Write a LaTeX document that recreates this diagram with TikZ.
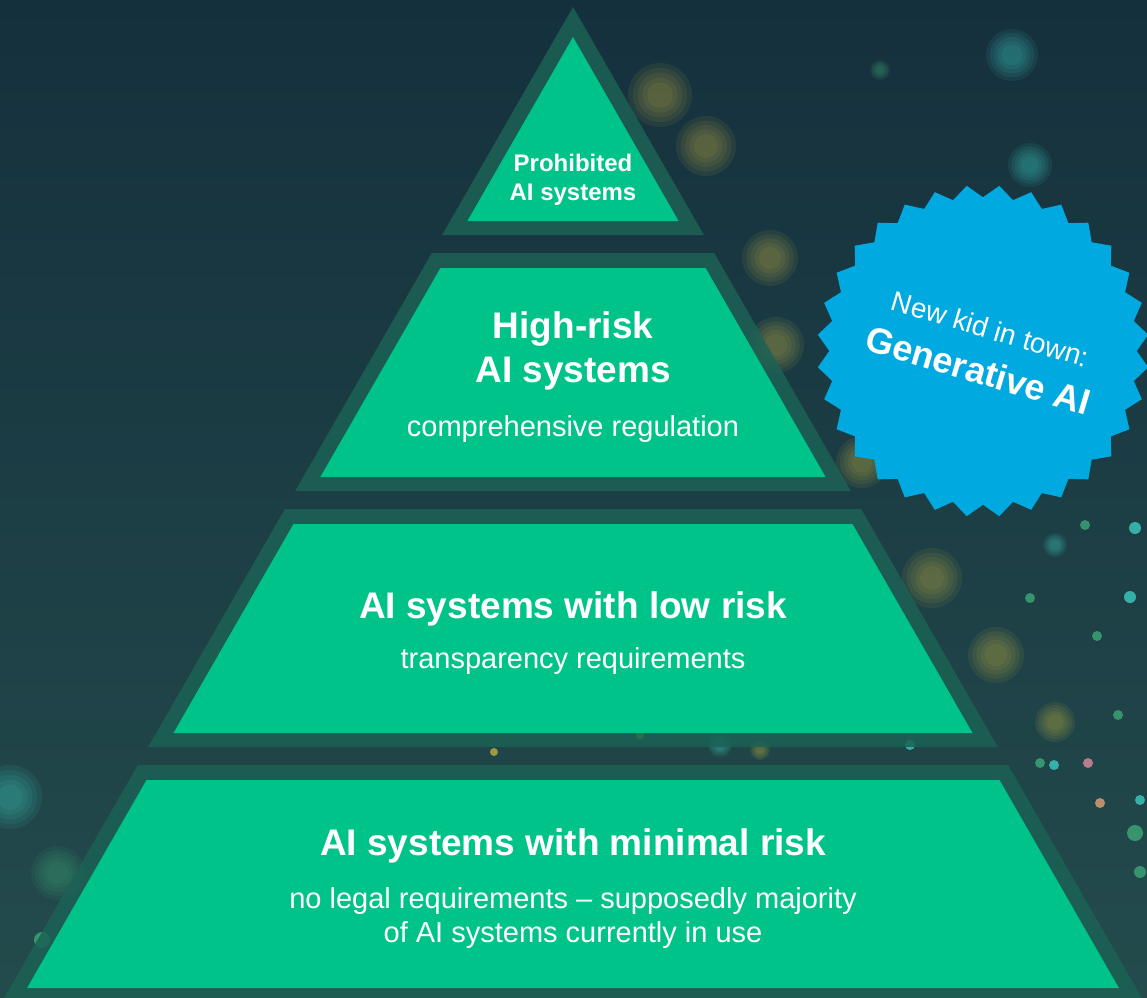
\documentclass[tikz,border=0pt]{standalone}
\usepackage{fontspec}
\setmainfont{Liberation Sans}
\usetikzlibrary{shapes.geometric}
\definecolor{bgtop}{HTML}{15303D}
\definecolor{bgbot}{HTML}{234B4C}
\definecolor{band}{HTML}{1C6255}
\definecolor{tiergreen}{HTML}{00C389}
\definecolor{burstblue}{HTML}{00A9E0}
\definecolor{bokehy}{HTML}{C9B542}
\definecolor{bokehc}{HTML}{3FD6C8}
\definecolor{bokehg}{HTML}{3FAF7A}
\definecolor{bokehp}{HTML}{E88FA0}
\definecolor{bokeho}{HTML}{F0A878}
\begin{document}
\begin{tikzpicture}[x=1pt,y=-1pt,
  outerband/.style={fill=band, opacity=0.85},
  tierfill/.style={fill=tiergreen},
  toptext/.style={text=white, font=\bfseries\fontsize{24}{29}\selectfont, anchor=base, inner sep=0pt},
  titletext/.style={text=white, font=\bfseries\fontsize{37}{44}\selectfont, anchor=base, inner sep=0pt},
  subtext/.style={text=white, font=\fontsize{29}{34}\selectfont, anchor=base, inner sep=0pt},
  burst/.style={star, star points=32, star point ratio=1.08, minimum size=332pt, inner sep=0pt, fill=burstblue, rotate=5.625},
  bursttext/.style={text=white, font=\fontsize{28}{46}\selectfont, align=center, inner sep=0pt}]
\useasboundingbox (0,0) rectangle (1147,997);
\clip (0,0) rectangle (1147,997);
% background
\shade[top color=bgtop, bottom color=bgbot] (0,0) rectangle (1147,997);
% soft bokeh lights
\foreach \bx/\by/\br/\bc in {660/95/32/bokehy, 706/146/30/bokehy, 770/258/28/bokehy, 776/345/28/bokehy,
   862/462/26/bokehy, 932/578/30/bokehy, 996/655/28/bokehy, 1055/722/20/bokehy,
   1012/55/26/bokehc, 1030/165/22/bokehc, 880/70/10/bokehg, 10/797/32/bokehc, 58/873/27/bokehg,
   1055/545/12/bokehc, 720/745/12/bokehc, 760/750/10/bokehy} {
  \foreach \k in {1.0,0.85,0.7,0.55,0.4} {
    \fill[\bc, opacity=0.09] (\bx,\by) circle (\k*\br pt);
  }
}
\foreach \bx/\by/\br/\bc in {1085/525/5/bokehg, 1135/528/6/bokehc, 1030/598/5/bokehg, 1130/597/6/bokehc,
   1097/636/5/bokehg, 1118/715/5/bokehg, 1040/763/5/bokehg, 1054/765/5/bokehc, 1088/763/5/bokehp,
   1100/803/5/bokeho, 1140/800/5/bokehc, 1135/833/8/bokehg, 1140/872/6/bokehg, 910/745/5/bokehc,
   42/940/8/bokehg, 640/735/4/bokehy, 494/752/4/bokehy} {
  \fill[\bc, opacity=0.75] (\bx,\by) circle (\br pt);
}
% outer bands
\fill[outerband] (573,7) -- (703.9,235) -- (442.1,235) -- cycle;
\fill[outerband] (431.8,253) -- (714.2,253) -- (850.8,491) -- (295.2,491) -- cycle;
\fill[outerband] (284.9,509) -- (861.1,509) -- (997.8,747) -- (148.2,747) -- cycle;
\fill[outerband] (137.9,765) -- (1008.1,765) -- (1144.7,1003) -- (1.3,1003) -- cycle;
% inner tiers
\fill[tierfill] (573,37) -- (678.6,221) -- (467.4,221) -- cycle;
\fill[tierfill] (440.4,268) -- (705.6,268) -- (825.6,477) -- (320.4,477) -- cycle;
\fill[tierfill] (293.5,524) -- (852.5,524) -- (972.5,733) -- (173.5,733) -- cycle;
\fill[tierfill] (146.5,780) -- (999.5,780) -- (1118.9,988) -- (27.1,988) -- cycle;
% texts
\node[toptext] (p1) at (573,171) {Prohibited};
\node[toptext] (p2) at (573,200) {AI systems};
\node[titletext] (h1) at (573,338) {High-risk};
\node[titletext] (h2) at (573,382) {AI systems};
\node[subtext] (h3) at (573,436) {comprehensive regulation};
\node[titletext] (l1) at (573,618) {AI systems with low risk};
\node[subtext] (l2) at (573,668) {transparency requirements};
\node[titletext] (m1) at (573,855) {AI systems with minimal risk};
\node[subtext] (m2) at (573,908) {no legal requirements – supposedly majority};
\node[subtext] (m3) at (573,942) {of AI systems currently in use};
% starburst
\node[burst] (sb) at (983,351) {};
\node[bursttext, rotate=-16.5] (sbt) at (984,351)
  {New kid in town:\\{\bfseries\fontsize{36}{46}\selectfont Generative AI}};
\end{tikzpicture}
\end{document}
